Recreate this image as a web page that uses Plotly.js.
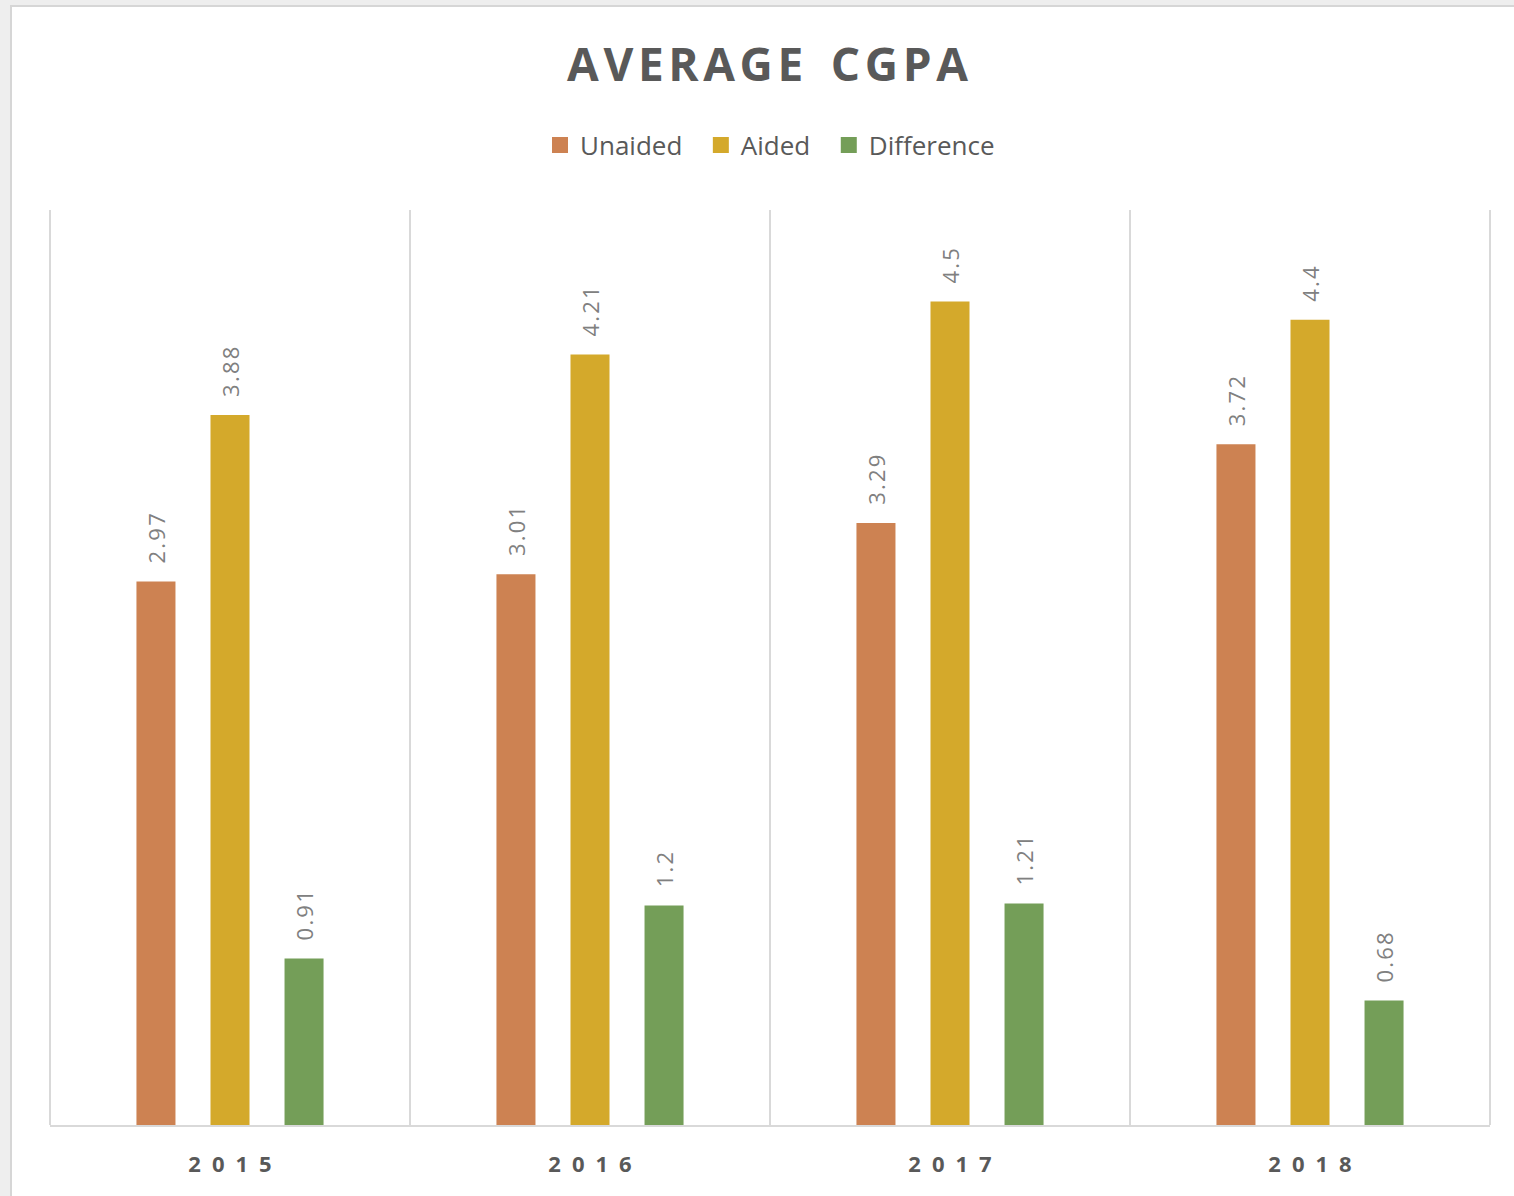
<!DOCTYPE html>
<html>
<head>
<meta charset="utf-8">
<script src="https://cdn.plot.ly/plotly-3.0.1.min.js"></script>
<style>
  html, body { margin: 0; padding: 0; background: #eeeeee; width: 1514px; height: 1196px; overflow: hidden; }
  #frame { position: absolute; left: 10px; top: 5px; border-left: 2px solid #d6d6d6; border-top: 2px solid #d6d6d6; background: #ffffff; }
  #chart { width: 1502px; height: 1189px; }
</style>
</head>
<body>
<div id="frame"><div id="chart"></div></div>
<script>
// ---- data ----
const years = ["2015", "2016", "2017", "2018"];
const unaided = [2.97, 3.01, 3.29, 3.72];
const aided = [3.88, 4.21, 4.5, 4.4];
const difference = [0.91, 1.2, 1.21, 0.68];
const seriesNames = ["Unaided", "Aided", "Difference"];
const seriesColors = ["#CD8252", "#D4A92B", "#749E58"];

const seriesValues = [unaided, aided, difference];
const spaced = (s, sep) => String(s).split("").join(sep);
const yearLabels = years.map(y => spaced(y, "\u2002"));
const labelFont = { family: "Open Sans, sans-serif", size: 22, color: "#808080" };

const barTraces = seriesValues.map((vals, i) => ({
  type: "bar",
  name: seriesNames[i],
  x: years,
  y: vals,
  showlegend: false,
  marker: { color: seriesColors[i], line: { width: 0 } },
  text: vals.map(v => spaced(v, "\u200A")),
  texttemplate: "\u00a0\u00a0\u2009%{text}",
  textposition: "outside",
  textangle: -90,
  constraintext: "none",
  cliponaxis: false,
  textfont: labelFont,
  hoverinfo: "skip"
}));

// legend-only entries (larger square swatches)
const legendTraces = seriesNames.map((name, i) => ({
  type: "scatter",
  mode: "markers",
  name: i < seriesNames.length - 1 ? name + "\u00a0\u00a0" : name,
  x: [null],
  y: [null],
  marker: { symbol: "square", size: 16, color: seriesColors[i] },
  showlegend: true,
  hoverinfo: "skip"
}));

const layout = {
  width: 1502,
  height: 1189,
  paper_bgcolor: "#ffffff",
  plot_bgcolor: "#ffffff",
  margin: { l: 38, r: 24, t: 203, b: 71 },
  barmode: "group",
  bargap: 0.383,
  bargroupgap: 0.473,
  showlegend: true,
  title: {
    text: spaced("AVERAGE", "\u200A") + "\u2002\u200A" + spaced("CGPA", "\u200A"),
    font: { family: "Open Sans, sans-serif", size: 46, color: "#595959", weight: 700 },
    x: 0.503, xanchor: "center",
    y: 0.951, yanchor: "middle"
  },
  legend: {
    orientation: "h",
    x: 0.5, xanchor: "center",
    y: 1.071, yanchor: "middle",
    font: { family: "Open Sans, sans-serif", size: 26, color: "#595959" },
    traceorder: "normal"
  },
  shapes: [
    { type: "line", xref: "paper", yref: "paper", x0: 0, x1: 0, y0: 0, y1: 1, line: { color: "#d9d9d9", width: 2 } },
    { type: "line", xref: "paper", yref: "paper", x0: 1, x1: 1, y0: 0, y1: 1, line: { color: "#d9d9d9", width: 2 } }
  ],
  xaxis: {
    type: "category",
    tickmode: "array",
    tickvals: years,
    ticktext: yearLabels,
    tickson: "boundaries",
    ticks: "",
    showgrid: true,
    gridcolor: "#d9d9d9",
    gridwidth: 2,
    showline: true,
    linecolor: "#d9d9d9",
    linewidth: 2,
    ticklabelstandoff: 19,
    tickfont: { family: "Open Sans, sans-serif", size: 22, color: "#595959", weight: 700 },
    fixedrange: true
  },
  yaxis: {
    range: [0, 5],
    visible: false,
    showgrid: false,
    zeroline: false,
    fixedrange: true
  }
};

Plotly.newPlot("chart", barTraces.concat(legendTraces), layout, { displayModeBar: false, staticPlot: true });
</script>
</body>
</html>
